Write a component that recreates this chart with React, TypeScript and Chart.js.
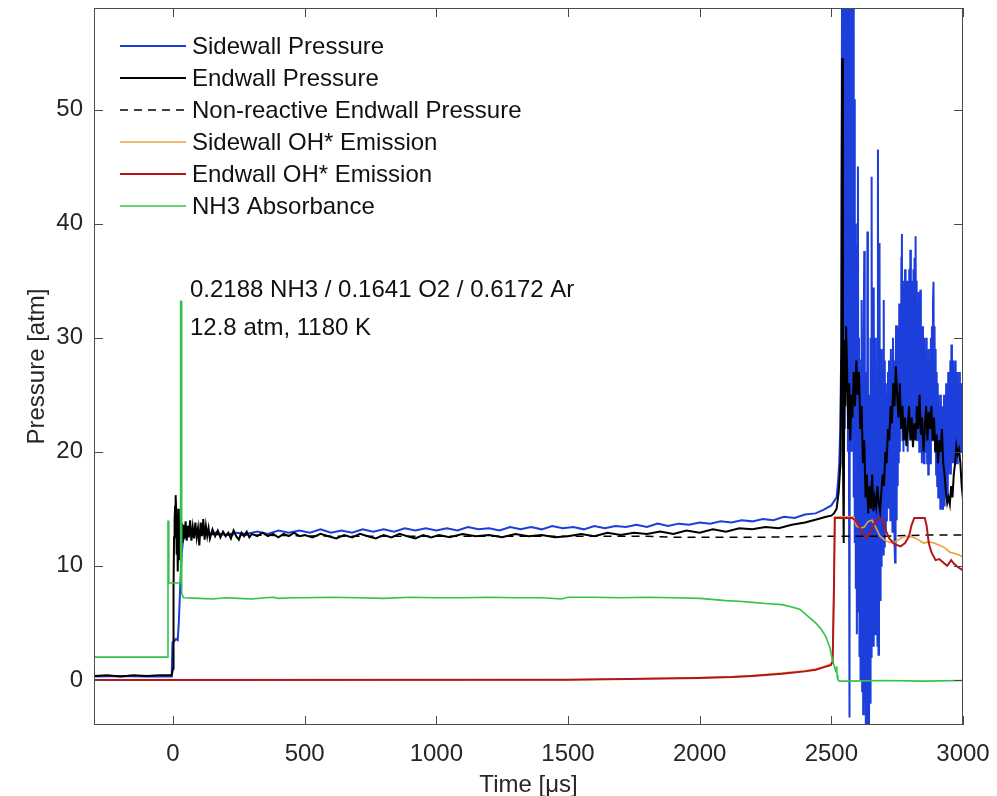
import React, { useEffect, useRef } from 'react';
import { Chart, registerables } from 'chart.js';
Chart.register(...registerables);

// ---------- axes ----------
const xMin = -300;
const xMax = 3000;
const yMin = -3.95;
const yMax = 58.9;
const xTickValues = [0, 500, 1000, 1500, 2000, 2500, 3000];
const yTickValues = [0, 10, 20, 30, 40, 50];
const xTitle = 'Time [\u03bcs]';
const yTitle = 'Pressure [atm]';
const noteLines = ['0.2188 NH3 / 0.1641 O2 / 0.6172 Ar', '12.8 atm, 1180 K'];

const seriesNames = [
  'Sidewall Pressure',
  'Endwall Pressure',
  'Non-reactive Endwall Pressure',
  'Sidewall OH* Emission',
  'Endwall OH* Emission',
  'NH3 Absorbance',
];

// ---------- data: [time (us), value] ----------
const sidewallQuiet: [number, number][] = [
  [-300, 0.3], [-200, 0.35], [-100, 0.3], [-5, 0.3], [-2, 3.3], [5, 3.4], [12, 3.6], [18, 3.5],
  [22, 5], [28, 8.5], [33, 11], [38, 12.2], [45, 12.6], [60, 12.9], [80, 12.7], [100, 13.0],
  [130, 12.8], [160, 12.9], [200, 12.7], [240, 12.9], [280, 12.8], [320, 13.0], [360, 12.8],
  [400, 13.1], [440, 12.9], [480, 13.1], [520, 12.9], [560, 13.2], [600, 12.9], [640, 13.1],
  [680, 12.9], [720, 13.2], [760, 13.0], [800, 13.2], [840, 13.0], [880, 13.3], [920, 13.1],
  [960, 13.3], [1000, 13.1], [1040, 13.3], [1080, 13.1], [1120, 13.4], [1160, 13.2], [1200, 13.3],
  [1240, 13.1], [1280, 13.4], [1320, 13.2], [1360, 13.4], [1400, 13.2], [1440, 13.5], [1480, 13.3],
  [1520, 13.4], [1560, 13.2], [1600, 13.5], [1640, 13.3], [1680, 13.5], [1720, 13.4], [1760, 13.6],
  [1800, 13.4], [1840, 13.7], [1880, 13.5], [1920, 13.7], [1960, 13.6], [2000, 13.8], [2040, 13.7],
  [2080, 13.9], [2120, 13.8], [2160, 14.0], [2200, 13.9], [2240, 14.1], [2280, 14.0], [2320, 14.3],
  [2360, 14.2], [2400, 14.5], [2440, 14.6], [2470, 14.9], [2500, 15.3],
];
const sidewallBurst: [number, number][] = [
  [2520, 16], [2526, 17.5], [2530, 19], [2534, 22], [2537, 28], [2539, 45], [2541, 64], [2543, 25],
  [2545, 64], [2547, 30], [2549, 64], [2551, 22], [2553, 64], [2555, 35], [2557, 64], [2559, 26],
  [2561, 64], [2563, 20], [2565, 62], [2567, 18], [2569, -3.3], [2571, 55], [2573, 24], [2575, 62],
  [2577, 20], [2579, 58], [2581, 28], [2583, 62], [2585, 16], [2587, 50.9], [2589, 12], [2591, 40],
  [2593, 8], [2595, 32], [2597, 4], [2599, 38], [2601, 45], [2603, 6], [2605, 30], [2607, 2],
  [2609, 26], [2611, 0], [2613, 28], [2615, 33.3], [2617, -1], [2619, 24], [2621, -3], [2623, 30],
  [2625, 37.6], [2627, -2], [2629, 22], [2631, -4], [2633, 27], [2635, -5], [2637, 39.3], [2639, -6],
  [2641, 25], [2643, -6], [2645, 20], [2647, -2], [2649, 30], [2651, 2], [2653, 44.1], [2655, 5],
  [2657, 26], [2659, 3], [2661, 34.4], [2663, 8], [2665, 28], [2667, 4], [2669, 30], [2671, 6],
  [2673, 24], [2675, 3], [2677, 46.5], [2679, 2.2], [2681, 30], [2683, 38.3], [2685, 7], [2687, 26],
  [2689, 10], [2691, 29], [2693, 12], [2695, 27], [2697, 11], [2699, 33.3], [2701, 11.7], [2703, 28],
  [2705, 13], [2707, 26], [2709, 14], [2711, 25], [2713, 16], [2715, 27], [2717, 15], [2719, 28],
  [2720, 15], [2722, 27], [2724, 14], [2726, 29], [2728, 16], [2730, 26], [2732, 13], [2734, 30],
  [2736, 15], [2738, 28], [2740, 12], [2742, 10.3], [2744, 27], [2746, 31.1], [2748, 14], [2750, 29],
  [2752, 17], [2754, 31], [2756, 19], [2758, 33], [2760, 20], [2762, 32], [2764, 22], [2766, 37],
  [2768, 39.1], [2770, 21], [2772, 35], [2774, 20], [2776, 33], [2778, 22], [2780, 36], [2782, 21],
  [2784, 34], [2786, 23], [2788, 35], [2790, 20], [2792, 33], [2794, 22], [2796, 36], [2798, 24],
  [2800, 37.7], [2802, 21], [2804, 35], [2806, 22], [2808, 34], [2810, 23], [2812, 36], [2814, 22],
  [2816, 37], [2818, 24], [2820, 38.9], [2822, 23], [2824, 35], [2826, 21], [2828, 33], [2830, 22],
  [2832, 34], [2834, 20], [2836, 32], [2838, 34.2], [2840, 21], [2842, 30], [2844, 19], [2846, 31],
  [2848, 20], [2850, 29], [2852, 19], [2854, 30], [2856, 21], [2858, 28], [2860, 20], [2862, 30],
  [2864, 19], [2866, 27], [2868, 18], [2870, 29], [2872, 20], [2874, 28], [2876, 19], [2878, 30],
  [2880, 21], [2882, 31], [2884, 22], [2886, 33], [2888, 34.9], [2890, 21], [2892, 31], [2894, 20],
  [2896, 29], [2898, 18], [2900, 27], [2902, 17], [2904, 26], [2906, 16], [2908, 25], [2910, 16],
  [2912, 24], [2914, 15], [2916, 25], [2918, 16], [2920, 23], [2922, 15], [2924, 24], [2926, 16],
  [2928, 25], [2930, 15.2], [2932, 24], [2934, 16], [2936, 26], [2938, 17], [2940, 25], [2942, 16],
  [2944, 27], [2946, 18], [2948, 26], [2950, 19], [2952, 28], [2954, 18], [2956, 29.4], [2958, 20],
  [2960, 27], [2962, 19], [2964, 28], [2966, 20], [2968, 27], [2970, 19], [2972, 28], [2974, 20],
  [2976, 26], [2978, 19], [2980, 27], [2982, 20], [2984, 26], [2986, 21], [2988, 27], [2990, 20],
  [2992, 25], [2994, 21], [2996, 26], [2998, 20], [3000, 22],
];

const endwallQuiet: [number, number][] = [
  [-300, 0.35], [-250, 0.4], [-200, 0.3], [-150, 0.4], [-100, 0.35], [-50, 0.4], [-5, 0.4], [0, 1],
  [2, 8], [4, 12.5], [6, 14], [8, 15.2], [10, 16.2], [12, 15], [14, 11], [16, 14.5], [18, 9.5],
  [20, 13], [22, 15], [24, 12], [26, 10.5], [28, 14], [30, 12.8], [33, 13.8], [36, 12], [40, 13.6],
  [44, 12.4], [48, 13.9], [52, 12.2], [56, 13.5], [60, 12.5], [65, 14], [70, 12.2], [75, 13.4],
  [80, 12.4], [85, 13.8], [90, 12.5], [95, 13.3], [100, 11.8], [105, 13.8], [110, 12.6], [115, 14.1],
  [120, 12.3], [125, 13.5], [130, 12.6], [135, 13.3], [140, 12.4], [150, 13.2], [160, 12.6],
  [170, 13.1], [180, 12.5], [190, 13.0], [200, 12.6], [210, 12.9], [220, 12.4], [230, 13.1],
  [240, 12.6], [250, 12.3], [260, 12.9], [270, 12.6], [280, 13.0], [290, 12.5], [300, 12.8],
  [320, 12.6], [340, 12.9], [360, 12.6], [380, 12.8], [400, 12.5], [420, 12.8], [440, 12.6],
  [460, 12.9], [480, 12.6], [500, 12.7], [530, 12.5], [560, 12.8], [590, 12.6], [620, 12.4],
  [650, 12.7], [680, 12.5], [710, 12.8], [740, 12.6], [770, 12.4], [800, 12.7], [830, 12.5],
  [860, 12.8], [890, 12.6], [920, 12.4], [950, 12.7], [980, 12.5], [1010, 12.7], [1050, 12.5],
  [1100, 12.8], [1150, 12.6], [1200, 12.7], [1250, 12.5], [1300, 12.8], [1350, 12.6], [1400, 12.7],
  [1450, 12.5], [1500, 12.6], [1550, 12.8], [1600, 12.6], [1650, 12.9], [1700, 12.7], [1750, 12.9],
  [1800, 12.8], [1850, 13.0], [1900, 12.8], [1950, 13.1], [2000, 12.9], [2050, 13.2], [2100, 13.0],
  [2150, 13.3], [2200, 13.2], [2250, 13.4], [2300, 13.3], [2350, 13.6], [2400, 13.8], [2450, 14.1],
  [2480, 14.3],
];
const endwallBurst: [number, number][] = [
  [2500, 14.4], [2510, 14.6], [2520, 15.0], [2528, 16.5], [2535, 19], [2538, 30], [2541, 54.5],
  [2544, 20], [2547, 12], [2550, 29.8], [2553, 24], [2556, 31], [2560, 27], [2564, 22], [2568, 26],
  [2572, 21], [2576, 25], [2580, 23], [2585, 27], [2590, 24], [2595, 28], [2600, 25], [2605, 27],
  [2610, 22], [2615, 24], [2620, 19], [2625, 21], [2630, 16], [2635, 18], [2640, 14.6], [2645, 17],
  [2650, 15], [2655, 18], [2660, 14.8], [2665, 16], [2670, 15.2], [2675, 17], [2680, 15.5],
  [2685, 14.8], [2690, 16.5], [2695, 18], [2700, 17], [2705, 20], [2710, 19], [2715, 22], [2720, 21],
  [2725, 24], [2730, 22.5], [2735, 26], [2740, 24], [2745, 27.5], [2750, 25], [2755, 23], [2760, 26],
  [2765, 22], [2770, 24], [2775, 21], [2780, 23], [2785, 20.5], [2790, 22], [2795, 24], [2800, 21],
  [2805, 23], [2810, 20.4], [2815, 22.5], [2820, 21], [2825, 24], [2830, 22], [2835, 25], [2840, 21.5],
  [2845, 23], [2850, 20], [2855, 22], [2860, 24], [2865, 21], [2870, 23.5], [2875, 22], [2880, 24],
  [2885, 21], [2890, 23], [2895, 20], [2900, 21.5], [2905, 19], [2910, 21], [2915, 20], [2920, 22],
  [2925, 19], [2930, 18], [2935, 16.5], [2940, 15.5], [2945, 16], [2950, 15.4], [2955, 17], [2960, 16],
  [2965, 18], [2970, 19], [2975, 20.5], [2980, 19.8], [2985, 20.2], [2990, 19], [2995, 17], [3000, 15.8],
];

const nonReactiveEndwall: [number, number][] = [
  [40, 12.8], [300, 12.7], [600, 12.6], [1000, 12.6], [1500, 12.6], [1800, 12.6], [1900, 12.5],
  [2200, 12.5], [2500, 12.6], [2700, 12.6], [2850, 12.7], [3000, 12.7],
];

const sidewallOH: [number, number][] = [
  [-300, 0], [1500, 0.02], [1800, 0.12], [2000, 0.2], [2123, 0.28], [2200, 0.38], [2313, 0.6],
  [2400, 0.8], [2441, 0.95], [2470, 1.15], [2498, 1.4], [2505, 1.7], [2510, 9], [2514, 14.3],
  [2585, 14.3], [2595, 13.5], [2610, 13.3], [2625, 13.4], [2640, 13.9], [2655, 14.0], [2670, 13.3],
  [2685, 12.6], [2700, 12.3], [2718, 12.1], [2735, 12.0], [2750, 12.2], [2770, 12.5], [2790, 12.6],
  [2810, 12.5], [2830, 12.3], [2850, 12.0], [2870, 12.1], [2890, 12.0], [2910, 11.8], [2930, 11.6],
  [2950, 11.2], [2965, 11.1], [2980, 11.0], [3000, 10.8],
];

const endwallOH: [number, number][] = [
  [-300, 0], [1500, 0.02], [1800, 0.1], [2000, 0.18], [2123, 0.25], [2200, 0.35], [2313, 0.55],
  [2400, 0.75], [2441, 0.9], [2470, 1.1], [2498, 1.3], [2505, 1.6], [2510, 8], [2513, 14.2],
  [2578, 14.2], [2590, 14.0], [2605, 13.5], [2620, 12.8], [2635, 12.5], [2650, 13.0], [2665, 13.8],
  [2680, 14.2], [2695, 14.0], [2705, 13.2], [2720, 12.4], [2740, 11.9], [2763, 11.7], [2780, 12.0],
  [2795, 12.6], [2805, 13.6], [2815, 14.2], [2855, 14.2], [2862, 13.5], [2870, 12.0], [2880, 11.2],
  [2896, 10.5], [2910, 10.6], [2925, 10.3], [2940, 10.0], [2955, 10.5], [2965, 10.2], [2980, 9.9],
  [3000, 9.6],
];

const nh3Absorbance: [number, number][] = [
  [-300, 2.0], [-20, 2.0], [-19, 13.9], [-17, 13.9], [-16, 8.5], [27, 8.5], [29, 33.2], [31, 33.2],
  [33, 7.6], [40, 7.2], [100, 7.15], [150, 7.1], [200, 7.2], [250, 7.15], [300, 7.1], [350, 7.2],
  [380, 7.25], [400, 7.15], [450, 7.2], [500, 7.2], [600, 7.25], [700, 7.2], [800, 7.15], [900, 7.25],
  [1000, 7.2], [1100, 7.2], [1200, 7.25], [1300, 7.2], [1400, 7.2], [1475, 7.1], [1500, 7.25],
  [1600, 7.25], [1700, 7.2], [1800, 7.25], [1900, 7.2], [2000, 7.15], [2100, 6.95], [2150, 6.9],
  [2200, 6.8], [2250, 6.7], [2313, 6.6], [2350, 6.4], [2380, 6.2], [2415, 5.5], [2440, 5.0],
  [2460, 4.5], [2479, 3.8], [2495, 2.8], [2502, 2.0], [2510, 1.3], [2515, 0.9], [2518, 0.7],
  [2520, 1.2], [2522, 0.4], [2525, 0.0], [2530, -0.1], [2560, -0.1], [2700, -0.05], [2850, -0.1],
  [3000, -0.05],
];

// ---------- styles ----------
const colors = ['#1c3edb', '#000000', '#000000', '#eaa13a', '#b2161c', '#33c24a'];
const widths = [2, 2, 1.5, 1.6, 2, 1.6];
const dashes: number[][] = [[], [], [8, 6], [], [], []];
const drawOrder = [6, 5, 4, 3, 2, 1];
const FONT = '"Liberation Sans", Arial, Helvetica, sans-serif';
const TEXT = '#262626';
const FONT_SIZE = 24;

const toPts = (arr: [number, number][]) => arr.map(([x, y]) => ({ x, y }));

const decorPlugin = {
  id: 'decor',
  afterDatasetsDraw(chart: any) {
    const { ctx, chartArea, scales } = chart;
    const xs = scales.x;
    const ys = scales.y;
    const { left, right, top, bottom } = chartArea;
    ctx.save();
    // box
    ctx.strokeStyle = '#4a4a4a';
    ctx.lineWidth = 1;
    ctx.strokeRect(left + 0.5, top + 0.5, right - left - 1, bottom - top - 1);
    // inward ticks
    const tl = 9;
    ctx.beginPath();
    xTickValues.forEach((v) => {
      const px = Math.round(xs.getPixelForValue(v)) + 0.5;
      ctx.moveTo(px, bottom);
      ctx.lineTo(px, bottom - tl);
      ctx.moveTo(px, top);
      ctx.lineTo(px, top + tl);
    });
    yTickValues.forEach((v) => {
      const py = Math.round(ys.getPixelForValue(v)) + 0.5;
      ctx.moveTo(left, py);
      ctx.lineTo(left + tl, py);
      ctx.moveTo(right, py);
      ctx.lineTo(right - tl, py);
    });
    ctx.stroke();

    // legend
    ctx.font = `${FONT_SIZE}px ${FONT}`;
    ctx.textBaseline = 'middle';
    ctx.textAlign = 'left';
    seriesNames.forEach((name, i) => {
      const cy = 46 + i * 32;
      ctx.beginPath();
      ctx.strokeStyle = colors[i];
      ctx.lineWidth = widths[i];
      ctx.setLineDash(dashes[i]);
      ctx.moveTo(120, cy);
      ctx.lineTo(186, cy);
      ctx.stroke();
      ctx.setLineDash([]);
      ctx.fillStyle = '#111';
      ctx.fillText(name, 192, cy + 1);
    });

    // annotation
    ctx.fillStyle = '#111';
    ctx.textBaseline = 'alphabetic';
    ctx.fillText(noteLines[0], 190, 297);
    ctx.fillText(noteLines[1], 190, 335);

    // axis titles
    ctx.fillStyle = TEXT;
    ctx.textAlign = 'center';
    ctx.textBaseline = 'middle';
    ctx.fillText(xTitle, (left + right) / 2, 785);
    ctx.translate(37, (top + bottom) / 2);
    ctx.rotate(-Math.PI / 2);
    ctx.fillText(yTitle, 0, 0);
    ctx.restore();
  },
};

const zeroPadding = (s: any) => {
  s.paddingTop = 0;
  s.paddingBottom = 0;
  s.paddingLeft = 0;
  s.paddingRight = 0;
};

export default function App() {
  const ref = useRef<HTMLCanvasElement | null>(null);
  useEffect(() => {
    document.body.style.margin = '0';
    const series = [
      [...sidewallQuiet, ...sidewallBurst],
      [...endwallQuiet, ...endwallBurst],
      nonReactiveEndwall,
      sidewallOH,
      endwallOH,
      nh3Absorbance,
    ];
    const chart = new Chart(ref.current as HTMLCanvasElement, {
      type: 'line',
      data: {
        datasets: series.map((s, i) => ({
          label: seriesNames[i],
          data: toPts(s),
          borderColor: colors[i],
          borderWidth: widths[i],
          borderDash: dashes[i],
          pointRadius: 0,
          tension: 0,
          fill: false,
          order: drawOrder[i],
        })),
      },
      options: {
        animation: false,
        responsive: false,
        layout: { padding: { left: 0, right: 34, top: 8, bottom: 0 } },
        plugins: { legend: { display: false }, tooltip: { enabled: false } },
        scales: {
          x: {
            type: 'linear',
            min: xMin,
            max: xMax,
            grid: { display: false, drawTicks: false },
            border: { display: false },
            afterBuildTicks: (s: any) => {
              s.ticks = xTickValues.map((v) => ({ value: v }));
            },
            afterFit: (s: any) => {
              s.height = 71;
              zeroPadding(s);
            },
            ticks: {
              font: { family: FONT, size: FONT_SIZE },
              color: TEXT,
              padding: 15,
              maxRotation: 0,
              callback: (v: any) => String(v),
            },
          },
          y: {
            type: 'linear',
            min: yMin,
            max: yMax,
            grid: { display: false, drawTicks: false },
            border: { display: false },
            afterBuildTicks: (s: any) => {
              s.ticks = yTickValues.map((v) => ({ value: v }));
            },
            afterFit: (s: any) => {
              s.width = 94;
              zeroPadding(s);
            },
            ticks: {
              font: { family: FONT, size: FONT_SIZE },
              color: TEXT,
              padding: 11,
              callback: (v: any) => String(v),
            },
          },
        },
      },
      plugins: [decorPlugin],
    });
    return () => chart.destroy();
  }, []);
  return (
    <div style={{ width: 997, height: 796, background: '#fff', overflow: 'hidden' }}>
      <canvas ref={ref} width={997} height={796} style={{ display: 'block' }} />
    </div>
  );
}
